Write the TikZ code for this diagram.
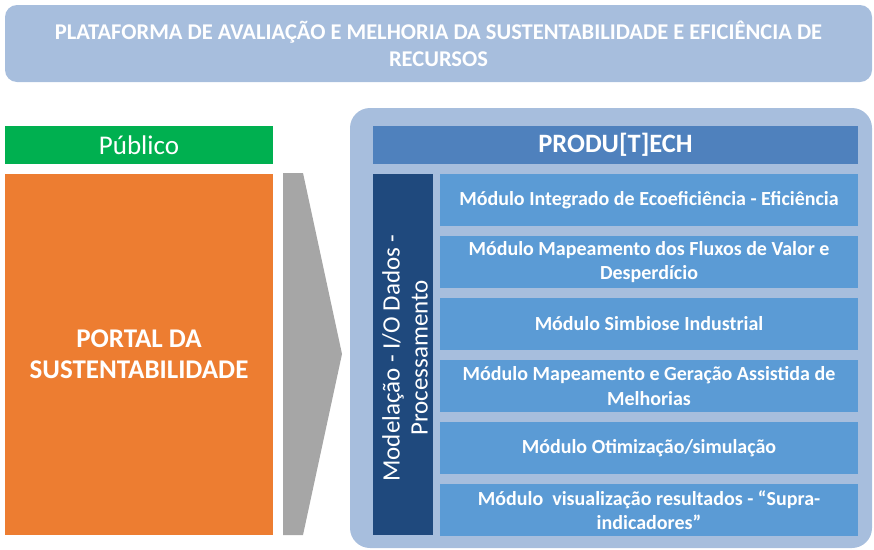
\documentclass[tikz,border=0pt]{standalone}
\usepackage{fontspec}
\setmainfont{Carlito}
\definecolor{lightblue}{HTML}{A7BEDD}
\definecolor{headblue}{HTML}{4F81BD}
\definecolor{modblue}{HTML}{5B9BD5}
\definecolor{darkblue}{HTML}{1F497D}
\definecolor{pubgreen}{HTML}{00B050}
\definecolor{portalorange}{HTML}{ED7D31}
\definecolor{arrowgray}{HTML}{A6A6A6}
\tikzset{
  box/.style={rectangle, inner sep=0pt, text=white, align=center},
  modbox/.style={box, fill=modblue, minimum width=418pt, minimum height=52pt, font=\fontsize{20}{24.5}\selectfont\bfseries},
}
\begin{document}
\begin{tikzpicture}[x=1pt,y=-1pt]
\useasboundingbox (0,0) rectangle (874,549);
% top banner
\node[box, fill=lightblue, rounded corners=12pt, minimum width=867pt, minimum height=77pt,
  font=\fontsize{22.5}{27}\selectfont\bfseries] (banner) at (438.5,43.5)
  {PLATAFORMA DE AVALIAÇÃO E MELHORIA DA SUSTENTABILIDADE E EFICIÊNCIA DE\\RECURSOS};
% left
\node[box, fill=pubgreen, minimum width=268pt, minimum height=38pt,
  font=\fontsize{27}{30}\selectfont] (pub) at (139,145) {Público};
\node[box, fill=portalorange, minimum width=268pt, minimum height=361pt,
  font=\fontsize{27}{31}\selectfont\bfseries] (portal) at (139,354.5) {PORTAL DA\\SUSTENTABILIDADE};
% gray arrow
\fill[arrowgray] (283,173) -- (303,173) -- (342,354) -- (303,535) -- (283,535) -- cycle;
% right panel
\node[box, fill=lightblue, rounded corners=20pt, minimum width=522pt, minimum height=440pt] (panel) at (611,328) {};
\node[box, fill=headblue, minimum width=485pt, minimum height=38pt,
  font=\fontsize{26.5}{30}\selectfont\bfseries] (head) at (615.5,145) {PRODU[T]ECH};
\node[box, fill=darkblue, minimum width=60pt, minimum height=361pt] (bar) at (403,354.5) {};
\node[box, rotate=90, font=\fontsize{25}{28}\selectfont] (bartext) at (405,358)
  {Modelação - I/O Dados -\\Processamento};
% modules
\node[modbox] (m1) at (649,200) {Módulo Integrado de Ecoeficiência - Eficiência};
\node[modbox] (m2) at (649,262) {Módulo Mapeamento dos Fluxos de Valor e\\Desperdício};
\node[modbox] (m3) at (649,324) {Módulo Simbiose Industrial};
\node[modbox] (m4) at (649,386) {Módulo Mapeamento e Geração Assistida de\\Melhorias};
\node[modbox] (m5) at (649,448) {Módulo Otimização/simulação};
\node[modbox] (m6) at (649,510) {Módulo\ \ visualização resultados - “Supra-\\indicadores”};
\end{tikzpicture}
\end{document}
